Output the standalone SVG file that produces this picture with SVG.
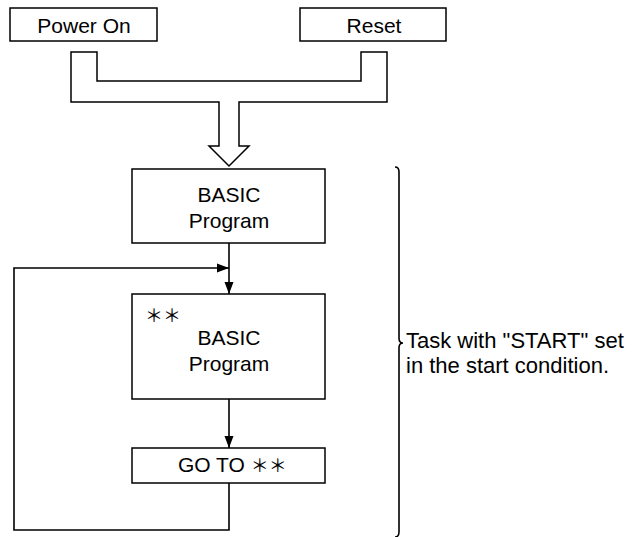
<svg xmlns="http://www.w3.org/2000/svg" width="633" height="537" viewBox="0 0 633 537">
  <style>
    .box { fill: #fff; stroke: #000; stroke-width: 1.5; }
    .t { font-family: "Liberation Sans", Arial, sans-serif; font-size: 21px; fill: #000; }
    .c { text-anchor: middle; }
    .ast { font-family: "Noto Sans CJK JP", "Liberation Sans", sans-serif; font-size: 18px; font-weight: 400; fill: #000; }
    .note { font-size: 22px; }
    .ln { fill: none; stroke: #000; stroke-width: 1.6; }
  </style>
  <defs>
    <marker id="ah" markerWidth="12" markerHeight="12" viewBox="0 0 12 12" refX="12" refY="6" orient="auto" markerUnits="userSpaceOnUse">
      <path d="M0,1.5 L12,6 L0,10.5 Z" fill="#000"/>
    </marker>
  </defs>
  <rect width="633" height="537" fill="#fff"/>

  <g id="power-on">
    <rect class="box" x="10" y="8" width="147" height="33"/>
    <text class="t c" x="84" y="33">Power On</text>
  </g>
  <g id="reset">
    <rect class="box" x="300" y="8" width="146" height="33"/>
    <text class="t c" x="374" y="33">Reset</text>
  </g>
  <g id="basic1">
    <rect class="box" x="132" y="169" width="193" height="74"/>
    <text class="t c" x="229" y="202">BASIC</text>
    <text class="t c" x="229" y="228">Program</text>
  </g>
  <g id="basic2">
    <rect class="box" x="132" y="294" width="193" height="105"/>
    <text class="ast" x="145" y="322">＊＊</text>
    <text class="t c" x="229" y="345">BASIC</text>
    <text class="t c" x="229" y="371">Program</text>
  </g>
  <g id="goto">
    <rect class="box" x="132" y="448" width="193" height="35"/>
    <text class="t" x="178" y="472">GO TO <tspan class="ast">＊＊</tspan></text>
  </g>
  <g id="task-label">
    <path class="ln" d="M395,167 Q399,167 399,172 L399,338 Q399,343 403,343 Q399,343 399,348 L399,532 Q399,537 395,537"/>
    <text class="t note" x="406" y="348">Task with "START" set</text>
    <text class="t note" x="406" y="373">in the start condition.</text>
  </g>
  <g id="connectors">
    <path class="box" stroke-linejoin="miter" d="M71,52 L97,52 L97,81 L361,81 L361,52 L387,52 L387,102 L239,102 L239,146 L249,146 L229,166 L209,146 L219,146 L219,102 L71,102 Z"/>
    <path class="ln" d="M229,243 L229,294" marker-end="url(#ah)"/>
    <path class="ln" d="M229,483 L229,530 L14,530 L14,268 L229,268" marker-end="url(#ah)"/>
    <path class="ln" d="M229,399 L229,448" marker-end="url(#ah)"/>
  </g>
</svg>
